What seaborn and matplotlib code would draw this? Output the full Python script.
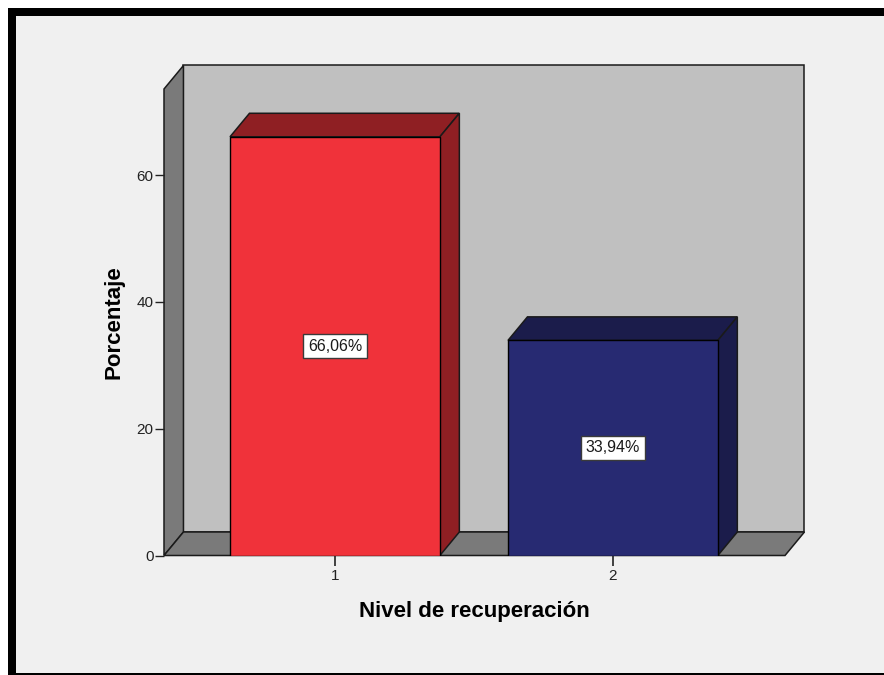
import matplotlib
matplotlib.use("Agg")
import matplotlib.pyplot as plt
from matplotlib.patches import Polygon, Rectangle
import seaborn as sns

# Data
niveles = ["1", "2"]
porcentajes = [66.06, 33.94]
etiquetas = ["66,06%", "33,94%"]
yticks = [0, 20, 40, 60]

# Styling
front_colors = ["#F0323A", "#272A72"]
shade_colors = ["#8F1F23", "#1B1C4B"]
back_wall = "#C0C0C0"
side_wall = "#7A7A7A"
page_bg = "#F0F0F0"

sns.set_theme(style="white")
plt.rcParams["font.family"] = ["Liberation Sans", "DejaVu Sans"]

W, H = 884, 675
fig = plt.figure(figsize=(W / 100, H / 100), dpi=100, facecolor="white")

# Frame of the output window
fig.patches.append(Rectangle((8 / W, 0), 1, 1 - 8 / H, transform=fig.transFigure,
                             facecolor="black", edgecolor="none", zorder=-3))
fig.patches.append(Rectangle((16 / W, 2 / H), 1, 1 - 18 / H, transform=fig.transFigure,
                             facecolor=page_bg, edgecolor="none", zorder=-2))

# Axes placed on the front plane of the 3D box
y0_px, ytop_px = 555.5, 89
ax = fig.add_axes([164 / W, (H - y0_px) / H, (785 - 164) / W, (y0_px - ytop_px) / H])
ax.set_facecolor("none")

YMAX = 73.6
XMIN, XMAX = -0.615, 1.619
DX, DY = 0.070, 3.71   # depth offset of the 3D extrusion, in data units
BW = 0.755

sns.barplot(x=niveles, y=porcentajes, hue=niveles, palette=front_colors,
            legend=False, width=BW, saturation=1, edgecolor="black",
            linewidth=1.0, ax=ax)

ax.set_xlim(XMIN, XMAX)
ax.set_ylim(0, YMAX)

edge = dict(edgecolor="#1a1a1a", linewidth=1.1, clip_on=False)

# Back wall, left wall and floor of the box
ax.add_patch(Polygon([(XMIN + DX, DY), (XMAX + DX, DY), (XMAX + DX, YMAX + DY),
                      (XMIN + DX, YMAX + DY)], closed=True, facecolor=back_wall,
                     zorder=0.2, **edge))
ax.add_patch(Polygon([(XMIN, 0), (XMIN, YMAX), (XMIN + DX, YMAX + DY), (XMIN + DX, DY)],
                     closed=True, facecolor=side_wall, zorder=0.3, **edge))
ax.add_patch(Polygon([(XMIN, 0), (XMAX, 0), (XMAX + DX, DY), (XMIN + DX, DY)],
                     closed=True, facecolor=side_wall, zorder=0.3, **edge))

# Top and side faces of each bar, then bring the front faces forward
for bar, shade in zip(ax.patches[:len(niveles)], shade_colors):
    x0 = bar.get_x()
    x1 = x0 + bar.get_width()
    h = bar.get_height()
    ax.add_patch(Polygon([(x0, h), (x1, h), (x1 + DX, h + DY), (x0 + DX, h + DY)],
                         closed=True, facecolor=shade, zorder=1.5, **edge))
    ax.add_patch(Polygon([(x1, 0), (x1 + DX, DY), (x1 + DX, h + DY), (x1, h)],
                         closed=True, facecolor=shade, zorder=1.5, **edge))
    bar.set_zorder(2)

# Percentage labels on the bars
for i, (v, lab) in enumerate(zip(porcentajes, etiquetas)):
    ax.text(i, v / 2, lab, ha="center", va="center", fontsize=11.5, color="#1a1a1a",
            zorder=3, bbox=dict(boxstyle="square,pad=0.28", facecolor="white",
                                edgecolor="#3a3a3a", linewidth=1))

for s in ax.spines.values():
    s.set_visible(False)

ax.set_yticks(yticks)
ax.set_yticklabels([str(t) for t in yticks])
ax.tick_params(axis="y", left=True, length=6.5, width=1, color="#222222",
               labelsize=11, labelcolor="#222222", pad=1)
ax.tick_params(axis="x", bottom=True, length=7, width=1.2, color="#222222",
               labelsize=11, labelcolor="#222222", pad=3)

ax.set_xlabel("Nivel de recuperación", fontsize=16, fontweight="bold",
              color="black", labelpad=13)
ax.set_ylabel("Porcentaje", fontsize=16, fontweight="bold", color="black",
              labelpad=9)

fig.savefig("out.png", dpi=100, facecolor=fig.get_facecolor())
